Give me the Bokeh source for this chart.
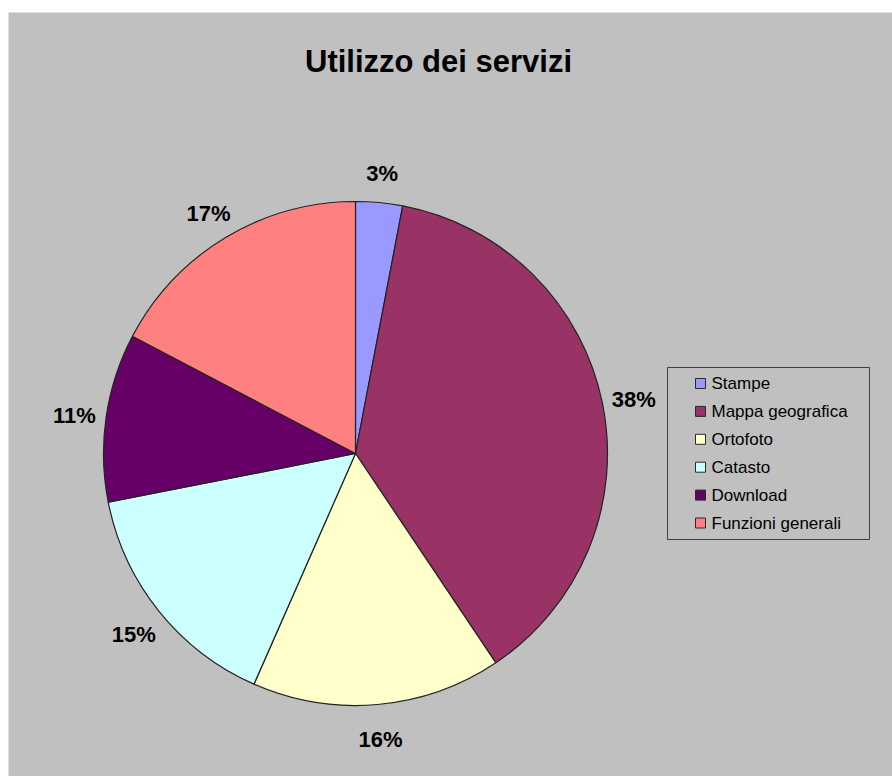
import math
from bokeh.plotting import figure
from bokeh.models import Range1d
from bokeh.core.properties import value
from bokeh.embed import file_html
from bokeh.resources import INLINE

# ---- data ----
categories = ["Stampe", "Mappa geografica", "Ortofoto", "Catasto", "Download", "Funzioni generali"]
shares = [3.0, 37.6, 16.0, 15.3, 10.8, 17.3]
colors = ["#9999FF", "#993366", "#FFFFCC", "#CCFFFF", "#660066", "#FF8080"]
title_text = "Utilizzo dei servizi"

# ---- layout ----
W, H = 892, 776
FONT = "Liberation Sans"

p = figure(width=W, height=H, x_range=Range1d(0, W), y_range=Range1d(0, H),
           output_backend="svg", toolbar_location=None, min_border=0)
p.axis.visible = False
p.grid.visible = False
p.outline_line_color = None
p.background_fill_color = "white"
p.border_fill_color = "white"

# chart area background
p.quad(left=[8], right=[W], bottom=[0], top=[H - 12], fill_color="#C0C0C0", line_color=None)

# pie
cx, cy, R = 355, H - 453, 252
total = sum(shares)
starts, ends, mids = [], [], []
cum = 0.0
for s in shares:
    a0 = math.pi / 2 - 2 * math.pi * cum / total
    cum += s
    a1 = math.pi / 2 - 2 * math.pi * cum / total
    starts.append(a0)
    ends.append(a1)
    mids.append((a0 + a1) / 2)

p.wedge(x=cx, y=cy, radius=R, start_angle=starts, end_angle=ends, direction="clock",
        fill_color=colors, line_color="#222222", line_width=1.2)

# percentage labels
LR = 284
lx = [cx + LR * math.cos(m) for m in mids]
ly = [cy + LR * math.sin(m) for m in mids]
labels = [f"{round(s / total * 100)}%" for s in shares]
p.text(x=lx, y=ly, text=labels, text_font=value(FONT), text_font_style="bold",
       text_font_size="22px", text_align="center", text_baseline="middle", text_color="#000000",
       y_offset=3)

# title
p.text(x=[438], y=[H - 61], text=[title_text], text_font=value(FONT), text_font_style="bold",
       text_font_size="31px", text_align="center", text_baseline="middle", text_color="#000000")

# legend
p.quad(left=[667], right=[869], bottom=[H - 539], top=[H - 367],
       fill_color="#C0C0C0", line_color="#404040", line_width=1)
row_y = [H - (383 + i * 27.9) for i in range(len(categories))]
p.rect(x=[700] * len(categories), y=row_y, width=10, height=10,
       fill_color=colors, line_color="#2a2a2a", line_width=1)
p.text(x=[711] * len(categories), y=row_y, text=categories, text_font=value(FONT),
       text_font_size="17px", text_align="left", text_baseline="middle", text_color="#000000")

open("out.html", "w").write(file_html(p, INLINE))
